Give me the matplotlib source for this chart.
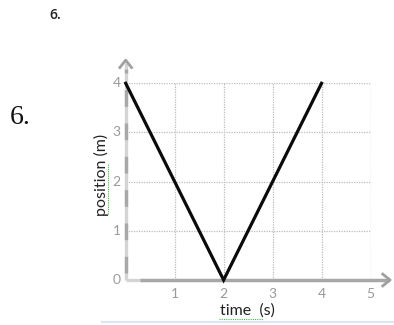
import matplotlib
matplotlib.use("Agg")
import matplotlib.pyplot as plt

# data
time_s = [0, 2, 4]
position_m = [4, 0, 4]
x_ticks = [1, 2, 3, 4, 5]
y_ticks = [0, 1, 2, 3, 4]

W, H = 394, 325
fig = plt.figure(figsize=(W / 100, H / 100), dpi=100)
fig.patch.set_facecolor("white")

def fx(px):
    return px / W

def fy(py):
    return 1 - py / H

ax = fig.add_axes([fx(125.7), fy(280), fx(370.5) - fx(125.7), fy(83.3) - fy(280)])
ax.set_xlim(0, 5)
ax.set_ylim(0, 4)
for s in ax.spines.values():
    s.set_visible(False)
ax.set_xticks([])
ax.set_yticks([])

grid_c = "#bcbcbc"
for x in x_ticks:
    ax.plot([x, x], [0, 4], color=grid_c, lw=0.9, ls=(0, (1, 1)), zorder=1)
for y in y_ticks[1:]:
    ax.plot([0, 5], [y, y], color=grid_c, lw=0.9, ls=(0, (1, 1)), zorder=1)

# axes lines with arrows
ax.plot([0, 0], [0, 4.42], color="#d4d4d4", lw=2.4, clip_on=False, zorder=2, solid_capstyle="butt")
ax.plot([0, 0], [0.15, 4.3], color="#a8a8a8", lw=2.4, ls=(0, (5, 5)), clip_on=False, zorder=2)
ax.plot([0, 5.38], [0, 0], color="#d4d4d4", lw=2.4, clip_on=False, zorder=2, solid_capstyle="butt")
ax.plot([0.3, 5.38], [0, 0], color="#a8a8a8", lw=2.4, clip_on=False, zorder=2, solid_capstyle="butt")
# arrowheads (open chevrons)
ax.plot([-0.12, 0, 0.12], [4.32, 4.47, 4.32], color="#a0a0a0", lw=2.0, clip_on=False, zorder=3)
ax.plot([5.25, 5.4, 5.25], [0.12, 0, -0.12], color="#a0a0a0", lw=2.0, clip_on=False, zorder=3)

# data line
ax.plot(time_s, position_m, color="#0a0a0a", lw=2.3, zorder=4, clip_on=False,
        solid_joinstyle="miter")

tick_c = "#9a9a9a"
for x in x_ticks:
    ax.text(x, -0.16, str(x), ha="center", va="top", fontsize=10, color=tick_c, family="Lato")
for y in y_ticks:
    ax.text(-0.1, y, str(y), ha="right", va="center", fontsize=10, color=tick_c, family="Lato")

fig.text(fx(247.5), fy(311), "time  (s)", ha="center", va="center", fontsize=11.5, color="#222222", family="Lato")
fig.text(fx(101.5), fy(175), "position (m)", ha="center", va="center", rotation=90, fontsize=11.5, color="#222222", family="Lato")

# spellcheck squiggles
fig.add_artist(plt.Line2D([fx(219), fx(263)], [fy(318.5), fy(318.5)], color="#44bb44", lw=0.8, ls=(0, (1, 1))))
fig.add_artist(plt.Line2D([fx(108), fx(108)], [fy(214), fy(163)], color="#44bb44", lw=0.8, ls=(0, (1, 1))))

# light blue rule at bottom
fig.add_artist(plt.Line2D([fx(101.5), fx(394)], [fy(321.7), fy(321.7)], color="#dbe5f3", lw=1.5))

# headers
fig.text(fx(49), fy(15), "6.", ha="left", va="center", fontsize=10, color="#222222", family="Open Sans", weight="semibold")
fig.text(fx(10), fy(117), "6.", ha="left", va="center", fontsize=20, color="#111111", family="Liberation Serif")

fig.savefig("out.png", dpi=100)
